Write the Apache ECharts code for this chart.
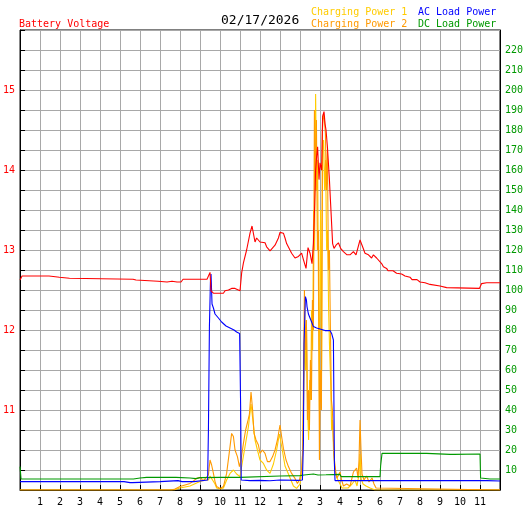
<!DOCTYPE html>
<html>
<head>
<meta charset="utf-8">
<script src="https://cdn.jsdelivr.net/npm/echarts@6/dist/echarts.min.js"></script>
<style>
html,body{margin:0;padding:0;background:#fff;}
#chart{width:527px;height:510px;}
</style>
</head>
<body>
<div id="chart"></div>
<script>
// ---- tick labels ----
const hourLabels = ['', '1','2','3','4','5','6','7','8','9','10','11','12','1','2','3','4','5','6','7','8','9','10','11',''];
const voltLabels = [11, 12, 13, 14, 15];
const powerLabels = [10,20,30,40,50,60,70,80,90,100,110,120,130,140,150,160,170,180,190,200,210,220];
const dateText = '02/17/2026';

// ---- series values: [hour, value] ----
const voltData = [
[0,12.625],[0.1,12.675],[1.45,12.675],[1.47,12.66],[1.97,12.66],[1.98,12.646],[2.47,12.646],[2.48,12.634],[5.65,12.634],[5.75,12.62],[5.8,12.625],[5.85,12.61],[6.9,12.61],[6.92,12.6],[7.35,12.6],[7.4,12.61],[7.6,12.61],[7.65,12.6],[7.85,12.6],[7.9,12.61],[7.95,12.6],[8.05,12.6],[8.15,12.634],[9.35,12.634],[9.5,12.72],[9.55,12.49],[9.67,12.46],[10.17,12.46],[10.25,12.49],[10.42,12.5],[10.58,12.52],[10.75,12.52],[10.83,12.51],[11.0,12.49],[11.08,12.71],[11.17,12.84],[11.33,13.0],[11.5,13.21],[11.6,13.3],[11.7,13.28],[11.75,13.1],[11.83,13.15],[12.0,13.1],[12.25,13.09],[12.33,13.04],[12.5,12.99],[12.58,12.98],[12.75,13.06],[12.92,13.15],[13.0,13.22],[13.08,13.23],[13.17,13.21],[13.25,13.15],[13.33,13.08],[13.42,13.06],[13.58,12.96],[13.75,12.9],[13.83,12.91],[13.92,12.92],[14.08,12.96],[14.17,12.88],[14.3,12.77],[14.4,13.03],[14.5,12.96],[14.6,12.83],[14.67,13.08],[14.72,13.46],[14.78,14.0],[14.83,14.17],[14.88,14.29],[14.95,13.88],[15.0,14.09],[15.08,14.0],[15.13,14.67],[15.2,14.73],[15.25,14.58],[15.3,14.5],[15.37,14.29],[15.47,13.88],[15.53,13.58],[15.58,13.33],[15.63,13.08],[15.7,13.02],[15.8,13.06],[15.92,13.09],[16.03,13.02],[16.17,12.98],[16.35,12.94],[16.5,12.94],[16.67,12.98],[16.8,12.94],[16.9,12.94],[17.0,13.125],[17.13,13.04],[17.25,12.96],[17.42,12.94],[17.58,12.9],[17.67,12.94],[17.83,12.9],[17.92,12.89],[18.08,12.83],[18.17,12.79],[18.33,12.77],[18.4,12.74],[18.65,12.74],[18.83,12.71],[19.08,12.7],[19.25,12.675],[19.5,12.66],[19.6,12.63],[19.85,12.63],[20.0,12.6],[20.25,12.59],[20.5,12.57],[21.0,12.55],[21.33,12.53],[22.97,12.52],[23.0,12.5],[23.08,12.58],[23.33,12.59],[23.4,12.6],[23.5,12.59],[24,12.59]
];

const chg1Data = [
[0,0],[7.7,0],[8.0,1],[8.5,2],[8.83,3.5],[9.0,4.2],[9.2,5],[9.42,5],[9.5,7],[9.6,8],[9.75,3],[9.83,1],[10.0,0.5],[10.17,1],[10.33,5],[10.5,8.3],[10.67,10],[10.83,8],[11.0,6.7],[11.08,11.7],[11.25,21.7],[11.42,31.7],[11.55,43],[11.63,36],[11.75,25],[11.87,20],[12.0,15],[12.17,13.3],[12.33,10],[12.5,8.3],[12.67,13],[12.83,20],[12.97,28],[13.08,22],[13.25,12],[13.42,8],[13.67,2],[13.83,0.8],[14.0,3],
[14.08,8],[14.13,20],[14.18,45],[14.23,75],[14.28,60],[14.33,80],[14.38,40],[14.43,25],[14.48,55],[14.53,45],[14.58,90],[14.63,70],[14.68,140],[14.73,120],[14.78,198],[14.83,150],[14.88,165],[14.93,90],[14.97,40],[15.0,110],[15.03,140],[15.08,60],[15.13,170],[15.18,175],[15.23,150],[15.28,165],[15.33,120],[15.38,130],[15.43,90],[15.48,70],[15.53,55],[15.58,30],[15.63,35],[15.68,18],[15.75,10],[15.85,6],
[16.0,3],[16.1,1],[16.2,0],[16.4,1],[16.6,3],[16.75,5],[16.85,2],[16.95,8],[17.0,18],[17.05,6],[17.15,3],[17.3,2],[17.5,1],[17.75,0],[24,0]
];

const chg2Data = [
[0,0],[7.58,0],[7.75,0.5],[8.0,1.7],[8.25,2.5],[8.5,3.3],[8.67,4.5],[8.83,5.8],[9.03,6.3],[9.15,4.5],[9.25,5],[9.42,7.5],[9.5,15],[9.58,12.5],[9.67,8.3],[9.75,4.2],[9.83,1.7],[10.0,0.8],[10.17,1.7],[10.33,8.3],[10.5,21.7],[10.58,28.3],[10.67,26.7],[10.75,20],[10.87,16.7],[10.97,11.7],[11.05,15],[11.17,23.3],[11.28,30],[11.38,34],[11.47,38],[11.55,49],[11.63,40],[11.7,28.3],[11.8,25],[11.92,22.5],[12.0,18.3],[12.12,20],[12.25,18.3],[12.37,14.2],[12.5,14.2],[12.63,16.7],[12.75,20],[12.87,25],[13.0,32.5],[13.08,26.7],[13.17,20.8],[13.3,15],[13.42,11.7],[13.58,8.3],[13.75,5.8],[13.87,3.3],[13.97,5],[14.08,10],
[14.13,18],[14.18,60],[14.22,100],[14.27,70],[14.32,85],[14.37,35],[14.42,50],[14.47,30],[14.52,65],[14.57,45],[14.62,95],[14.67,80],[14.72,190],[14.77,150],[14.82,185],[14.87,120],[14.92,130],[14.97,15],[15.02,60],[15.07,40],[15.12,180],[15.17,188],[15.22,185],[15.27,178],[15.32,150],[15.37,170],[15.42,110],[15.47,120],[15.52,80],[15.57,45],[15.62,40],[15.67,25],[15.72,15],[15.8,8],
[15.85,6],[16.0,9],[16.08,5],[16.17,2],[16.33,3],[16.5,2],[16.6,6],[16.67,9],[16.75,8],[16.83,11],[16.9,6],[16.95,15],[17.0,35],[17.05,20],[17.1,8],[17.2,5],[17.33,7],[17.45,4],[17.6,6],[17.7,3],[17.8,1],[17.9,0],[24,0]
];

const acData = [
[0,4.2],[0.3,4.2],[0.33,3.7],[0.4,4.2],[2.05,4.2],[2.08,3.7],[2.12,4.2],[2.8,4.2],[2.83,3.7],[2.87,4.2],[5.2,4.2],[5.25,3.7],[5.5,3.7],[5.55,4.2],[5.62,3.7],[5.7,4.2],[7.0,4.2],[7.05,4.7],[7.9,4.7],[7.95,4.2],[8.0,3.8],[8.1,4.2],[8.7,4.2],[8.75,5],[9.38,5],
[9.42,30],[9.47,82],[9.52,104],[9.55,108],[9.6,93],[9.67,91],[9.75,88],[9.92,86],[10.08,84],[10.3,82],[10.5,81],[10.7,80],[10.83,79],[10.98,78.3],[11.03,42],[11.06,5],
[11.5,4.7],[12.0,4.8],[12.5,4.6],[13.0,5],[13.9,4.8],[14.12,5],[14.17,23.5],[14.2,73],[14.27,96.7],[14.32,95],[14.35,91.7],[14.42,88],[14.5,86],[14.58,84],[14.67,81.7],[14.83,81],[15.0,80.5],[15.25,79.7],[15.5,79.7],[15.58,78.3],[15.67,75],[15.72,13],[15.75,4.7],
[18.8,4.7],[18.83,3.8],[18.9,4.7],[23.35,4.7],[23.4,3.8],[23.45,4.5],[24,4.5]
];

const dcData = [
[0,11.7],[0.05,5.5],[2.95,5.5],[3.0,6.2],[3.05,5.5],[5.67,5.5],[5.7,6],[6.0,6],[6.05,6.5],[6.33,6.3],[7.8,6.3],[7.85,5.8],[8.5,6],[8.8,5.7],[9.0,6.2],[10.0,6.3],[11.0,6.3],[11.05,7],[13.0,7.0],[14.0,7.2],[14.2,7.5],[14.67,8],[14.9,7.5],[15.0,8.2],[15.3,7.6],[16.0,7.8],[16.05,6.7],[18.0,6.7],[18.03,12],[18.1,18.3],[20.33,18.3],[20.37,17.8],[21.5,17.8],[21.55,18.2],[21.7,17.8],[23.0,18.0],[23.03,6],[23.08,5.8],[23.5,5.5],[23.55,5],[23.6,5.5],[24,5.5]
];

const FONT = 'DejaVu Sans Mono';
const chart = echarts.init(document.getElementById('chart'), null, {renderer: 'canvas'});

function lineSeries(name, data, color, yIdx, z) {
  return {
    name: name, type: 'line', data: data, yAxisIndex: yIdx,
    showSymbol: false, symbol: 'none', smooth: false,
    lineStyle: {color: color, width: 1.1}, z: z, silent: true
  };
}

chart.setOption({
  animation: false,
  backgroundColor: '#ffffff',
  title: [
    {text: 'Battery Voltage', left: 19, top: 19, padding: 0, textStyle: {color: '#ff0000', fontSize: 10, fontWeight: 'normal', fontFamily: FONT}},
    {text: dateText, left: 221, top: 14, padding: 0, textStyle: {color: '#000000', fontSize: 13, fontWeight: 'normal', fontFamily: FONT}},
    {text: 'Charging Power 1', left: 311, top: 7, padding: 0, textStyle: {color: '#ffcc00', fontSize: 10, fontWeight: 'normal', fontFamily: FONT}},
    {text: 'Charging Power 2', left: 311, top: 19, padding: 0, textStyle: {color: '#ff9900', fontSize: 10, fontWeight: 'normal', fontFamily: FONT}},
    {text: 'AC Load Power', left: 418, top: 7, padding: 0, textStyle: {color: '#0000ff', fontSize: 10, fontWeight: 'normal', fontFamily: FONT}},
    {text: 'DC Load Power', left: 418, top: 19, padding: 0, textStyle: {color: '#009900', fontSize: 10, fontWeight: 'normal', fontFamily: FONT}}
  ],
  grid: {left: 20, right: 27, top: 30, bottom: 20, show: true, borderColor: '#000', borderWidth: 1, containLabel: false},
  xAxis: {
    type: 'value', min: 0, max: 24, interval: 1,
    axisLine: {show: true, lineStyle: {color: '#000', width: 1}},
    axisTick: {show: true, inside: true, length: 5, lineStyle: {color: '#000'}},
    splitLine: {show: true, lineStyle: {color: '#a8a8a8', width: 1}},
    axisLabel: {margin: 7, color: '#000', fontSize: 10, fontFamily: FONT,
      formatter: v => hourLabels[Math.round(v)] || ''}
  },
  yAxis: [
    {
      type: 'value', min: 10, max: 15.75, interval: 0.25, position: 'left',
      axisLine: {show: true, lineStyle: {color: '#000', width: 1}},
      axisTick: {show: true, inside: true, length: 5, lineStyle: {color: '#000'}},
      splitLine: {show: true, lineStyle: {color: '#a8a8a8', width: 1}},
      axisLabel: {margin: 5, color: '#ff0000', fontSize: 10, fontFamily: FONT,
        formatter: v => voltLabels.indexOf(v) >= 0 ? String(v) : ''}
    },
    {
      type: 'value', min: 0, max: 230, interval: 10, position: 'right',
      axisLine: {show: true, lineStyle: {color: '#000', width: 1}},
      axisTick: {show: false},
      splitLine: {show: false},
      axisLabel: {margin: 5, color: '#009900', fontSize: 10, fontFamily: FONT,
        formatter: v => powerLabels.indexOf(v) >= 0 ? String(v) : ''}
    }
  ],
  series: [
    lineSeries('Charging Power 1', chg1Data, '#ffcc00', 1, 2),
    lineSeries('Charging Power 2', chg2Data, '#ff9900', 1, 3),
    lineSeries('DC Load Power', dcData, '#009900', 1, 4),
    lineSeries('AC Load Power', acData, '#0000ff', 1, 5),
    lineSeries('Battery Voltage', voltData, '#ff0000', 0, 6)
  ]
});
</script>
</body>
</html>
